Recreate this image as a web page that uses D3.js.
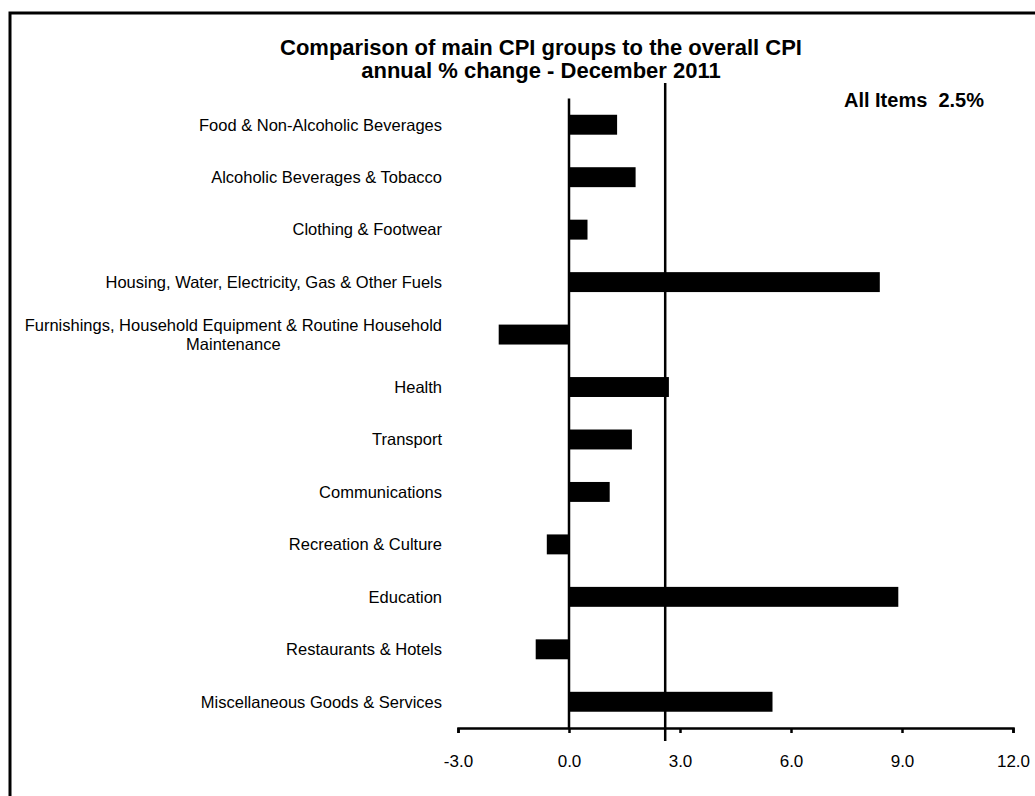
<!DOCTYPE html>
<html>

<head>
  <meta charset="utf-8">
  <title>CPI groups December 2011</title>
  <script src="https://d3js.org/d3.v7.min.js"></script>
  <style>
    body { margin: 0; background: #fff; }
    text { font-family: "Liberation Sans", Arial, sans-serif; fill: #000; }
  </style>
</head>

<body>
  <script>
    // 1. data (annual % change)
    var categories = [
      "Food & Non-Alcoholic Beverages",
      "Alcoholic Beverages & Tobacco",
      "Clothing & Footwear",
      "Housing, Water, Electricity, Gas & Other Fuels",
      "Furnishings, Household Equipment & Routine Household|Maintenance",
      "Health",
      "Transport",
      "Communications",
      "Recreation & Culture",
      "Education",
      "Restaurants & Hotels",
      "Miscellaneous Goods & Services"
    ];
    var values = [1.3, 1.8, 0.5, 8.4, -1.9, 2.7, 1.7, 1.1, -0.6, 8.9, -0.9, 5.5];
    var xTicks = [-3, 0, 3, 6, 9, 12];
    var allItems = 2.6; // where the All Items line sits in the picture
    var allItemsLabel = "All Items  2.5%";
    var titleLines = ["Comparison of main CPI groups to the overall CPI", "annual % change - December 2011"];

    var width = 1035;
    var height = 796;

    var dataset = categories.map((c, i) => ({ name: c, value: values[i] }));

    // 2. svg
    var svg = d3.select("body").append("svg").attr("width", width).attr("height", height);

    // outer frame (cut off at right and bottom)
    svg.append("rect")
      .attr("x", 10).attr("y", 13)
      .attr("width", 1100).attr("height", 900)
      .attr("fill", "none").attr("stroke", "#000").attr("stroke-width", 3);

    // 3. scales
    var xScale = d3.scaleLinear().domain([-3, 12]).range([458, 1013]);
    var yScale = d3.scaleBand()
      .domain(categories)
      .range([98.5, 728])
      .paddingInner(0.62)
      .paddingOuter(0.31);

    var axisY = 728;

    // title
    svg.append("g").selectAll("text")
      .data(titleLines)
      .enter()
      .append("text")
      .attr("x", 541)
      .attr("y", (d, i) => 55 + i * 23)
      .attr("text-anchor", "middle")
      .attr("font-size", 22)
      .attr("font-weight", "bold")
      .text(d => d);

    // 4. bars
    svg.append("g")
      .selectAll("rect")
      .data(dataset)
      .enter()
      .append("rect")
      .attr("x", d => xScale(Math.min(0, d.value)))
      .attr("y", d => yScale(d.name))
      .attr("width", d => Math.abs(xScale(d.value) - xScale(0)))
      .attr("height", yScale.bandwidth())
      .attr("fill", "#000");

    // category labels, right edge at 442, wrapped lines centred on each other
    var labelG = svg.append("g");
    dataset.forEach(d => {
      var lines = d.name.split("|");
      var cy = yScale(d.name) + yScale.bandwidth() / 2;
      var t = labelG.append("text")
        .attr("font-size", 16.5)
        .attr("text-anchor", "middle");
      var tsp = lines.map((l, i) => t.append("tspan")
        .attr("y", cy + (i - (lines.length - 1) / 2) * 19)
        .attr("dy", "0.35em")
        .text(l));
      var w = d3.max(tsp, s => s.node().getComputedTextLength());
      tsp.forEach(s => s.attr("x", 442 - w / 2));
    });

    // zero line
    svg.append("line")
      .attr("x1", xScale(0)).attr("x2", xScale(0))
      .attr("y1", yScale.range()[0]).attr("y2", axisY)
      .attr("stroke", "#000").attr("stroke-width", 2.5);

    // x axis
    var xAxis = svg.append("g")
      .attr("transform", "translate(0," + axisY + ")")
      .call(d3.axisBottom(xScale)
        .tickValues(xTicks)
        .tickFormat(d => d.toFixed(1))
        .tickSizeInner(5)
        .tickSizeOuter(5)
        .tickPadding(22));
    xAxis.select(".domain").attr("stroke-width", 2.5);
    xAxis.selectAll(".tick line").attr("stroke-width", 2.5);
    xAxis.selectAll(".tick text")
      .attr("font-size", 17)
      .attr("font-family", "Liberation Sans, Arial, sans-serif");

    // All Items line
    svg.append("line")
      .attr("x1", xScale(allItems)).attr("x2", xScale(allItems))
      .attr("y1", 83).attr("y2", 741)
      .attr("stroke", "#000").attr("stroke-width", 2.5);

    svg.append("text")
      .attr("x", 984).attr("y", 107)
      .attr("text-anchor", "end")
      .attr("font-size", 20)
      .attr("font-weight", "bold")
      .style("white-space", "pre")
      .text(allItemsLabel);
  </script>

</body>

</html>
